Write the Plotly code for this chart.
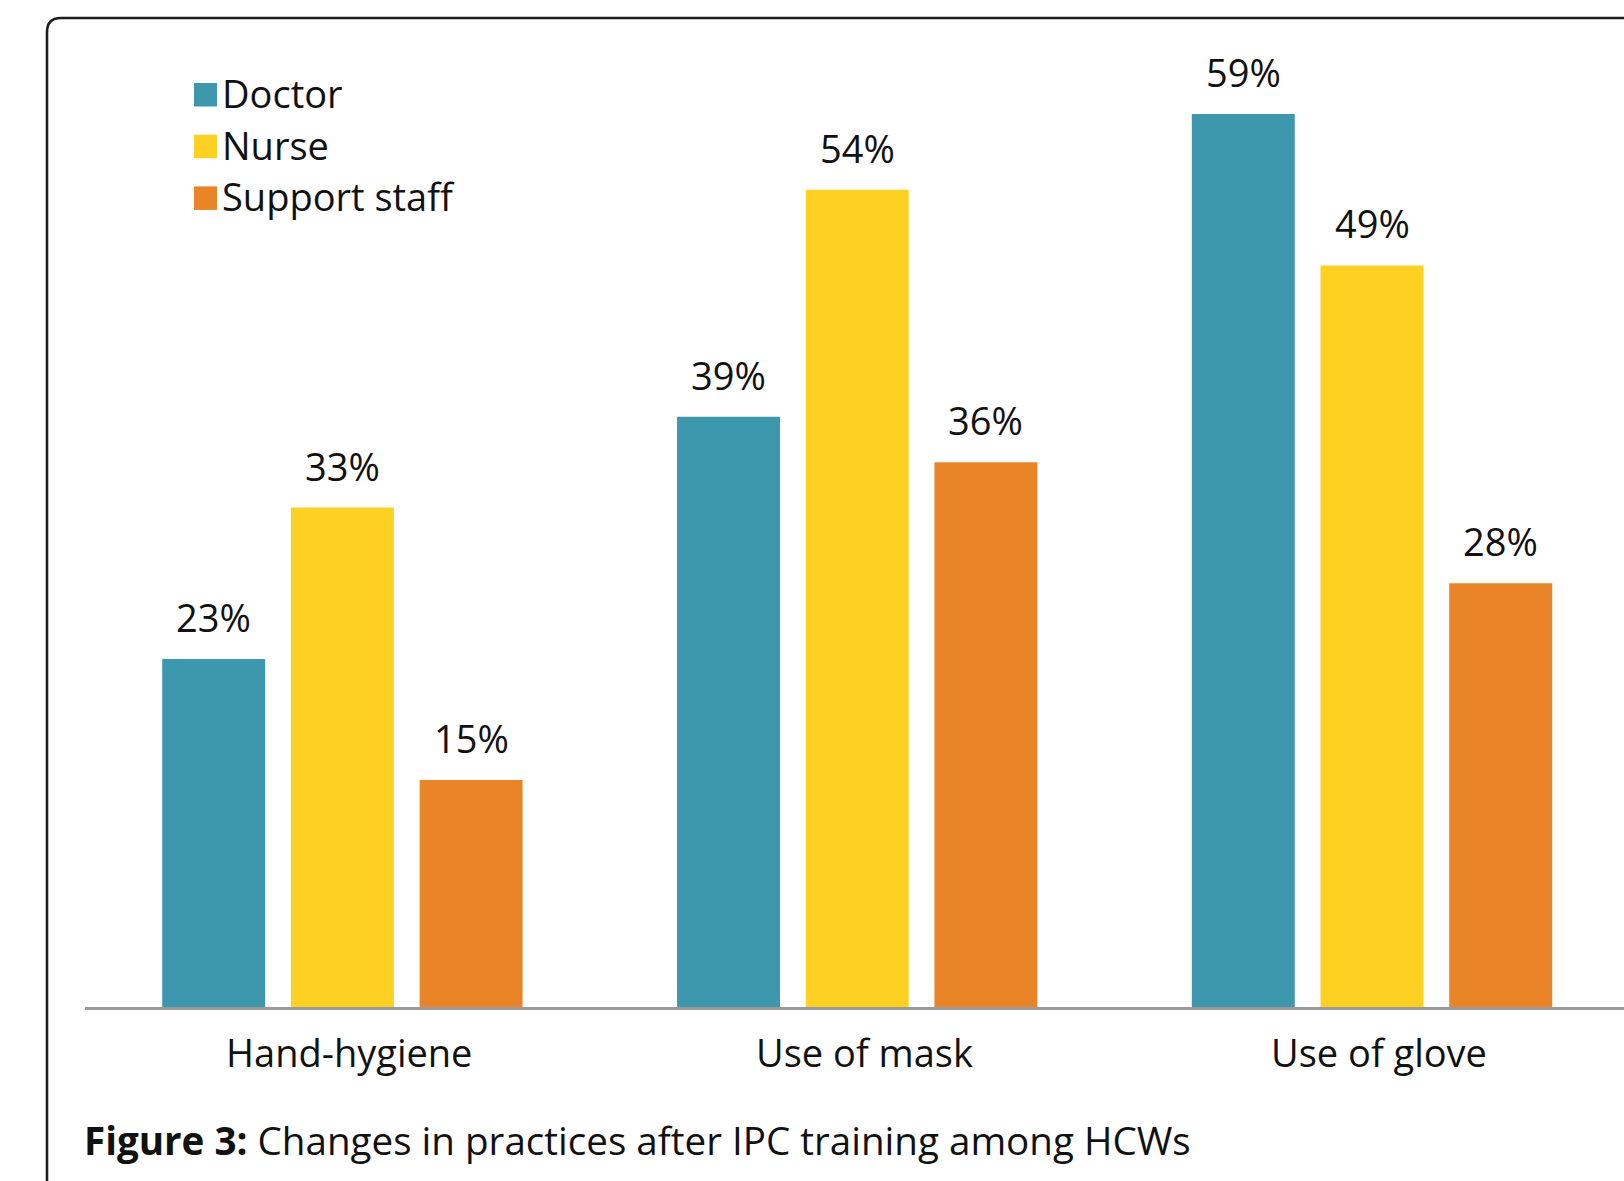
import plotly.graph_objects as go

categories = ["Hand-hygiene", "Use of mask", "Use of glove"]
series_names = ["Doctor", "Nurse", "Support staff"]
doctor = [23, 39, 59]
nurse = [33, 54, 49]
support = [15, 36, 28]
series_values = [doctor, nurse, support]
colors = ["#3D97AD", "#FDD022", "#EA8428"]
caption_bold = "Figure 3:"
caption_text = "Changes in practices after IPC training among HCWs"

W, H = 1624, 1181
ML, MR, MT, MB = 85, 0, 60, 174
PW = W - ML - MR
PH = H - MT - MB
BASE = H - MB

def px(x):
    return (x - ML) / PW

def py(y):
    return (BASE - y) / PH

FONT = "Open Sans"
FS = 38
TXT = "#111111"

fig = go.Figure()
for name, vals, col in zip(series_names, series_values, colors):
    fig.add_trace(go.Bar(
        name=name, x=categories, y=vals,
        marker=dict(color=col, line=dict(width=0)),
        showlegend=False, hoverinfo="skip",
    ))

annotations = []
slot = (1 - 0.25) / 3
for k, vals in enumerate(series_values):
    for i, v in enumerate(vals):
        annotations.append(dict(
            x=i + (k - 1) * slot, y=v, xref="x", yref="y",
            text=f"{v}%", showarrow=False, yanchor="middle", xanchor="center",
            yshift=42, font=dict(family=FONT, size=FS, color=TXT),
        ))

# category labels under the axis
for cat in categories:
    annotations.append(dict(
        x=cat, y=py(1052), xref="x", yref="paper", text=cat, showarrow=False,
        xanchor="center", yanchor="middle", xshift=7,
        font=dict(family=FONT, size=FS, color=TXT),
    ))

# legend drawn manually
shapes = []
leg_top = [83, 134.7, 186.4]
for k, (name, col) in enumerate(zip(series_names, colors)):
    t = leg_top[k]
    shapes.append(dict(type="rect", xref="paper", yref="paper",
                       x0=px(194), x1=px(217), y0=py(t + 23.5), y1=py(t),
                       fillcolor=col, line=dict(width=0)))
    annotations.append(dict(x=px(220), y=py(t + 9.8), xref="paper", yref="paper",
                            text=name, showarrow=False, xanchor="left", yanchor="middle",
                            font=dict(family=FONT, size=FS, color=TXT)))

annotations.append(dict(x=px(82), y=py(1140), xref="paper", yref="paper",
                        text=f"<b>{caption_bold}</b> {caption_text}", showarrow=False,
                        xanchor="left", yanchor="middle",
                        font=dict(family=FONT, size=38.6, color=TXT)))

# rounded frame
bx, by, r = 47, 18, 14
path = (f"M {px(bx)},{py(1300)} L {px(bx)},{py(by + r)} "
        f"Q {px(bx)},{py(by)} {px(bx + r)},{py(by)} L {px(1800)},{py(by)}")
shapes.append(dict(type="path", xref="paper", yref="paper", path=path,
                   line=dict(color="#1e1e1e", width=2.6), layer="above"))

ppp = 15.135
fig.update_layout(
    width=W, height=H,
    margin=dict(l=ML, r=MR, t=MT, b=MB, pad=0),
    paper_bgcolor="white", plot_bgcolor="white",
    barmode="group", bargap=0.25, bargroupgap=0.2,
    showlegend=False,
    xaxis=dict(range=[-0.5, -0.5 + PW / 514.8], showline=True, linecolor="#9a9a9a",
               linewidth=3, ticks="", showgrid=False, zeroline=False,
               showticklabels=False, fixedrange=True),
    yaxis=dict(range=[0, PH / ppp], visible=False, fixedrange=True),
    annotations=annotations, shapes=shapes,
)

fig.write_html("out.html")
